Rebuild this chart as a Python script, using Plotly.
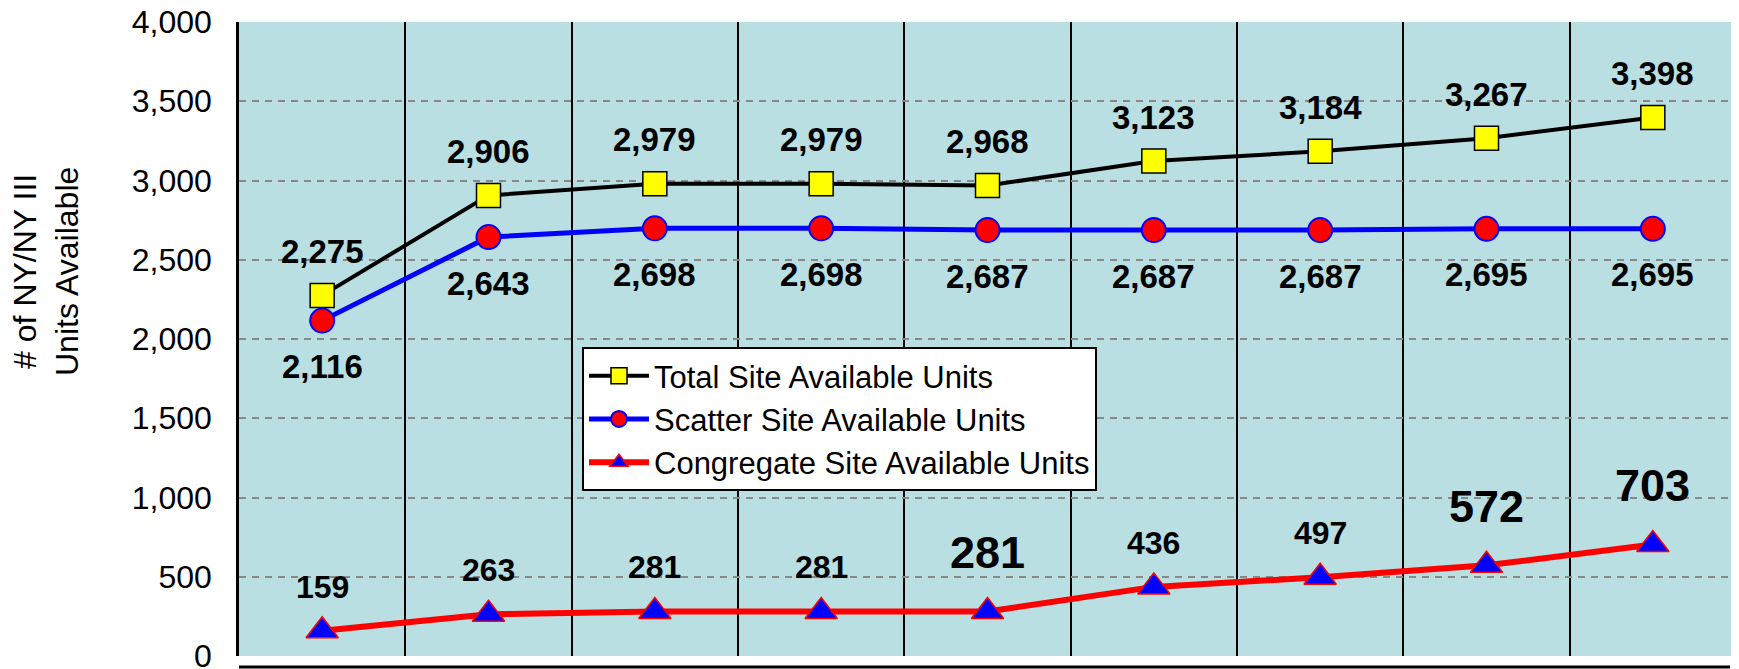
import plotly.graph_objects as go

# ---- data ----
categories = ["P1", "P2", "P3", "P4", "P5", "P6", "P7", "P8", "P9"]
total_units = [2275, 2906, 2979, 2979, 2968, 3123, 3184, 3267, 3398]
scatter_units = [2116, 2643, 2698, 2698, 2687, 2687, 2687, 2695, 2695]
congregate_units = [159, 263, 281, 281, 281, 436, 497, 572, 703]
# label emphasis (big bold labels) for congregate series
congregate_big = [False, False, False, False, True, False, False, True, True]

series_names = ["Total Site Available Units",
                "Scatter Site Available Units",
                "Congregate Site Available Units"]
y_ticks = [0, 500, 1000, 1500, 2000, 2500, 3000, 3500, 4000]

FONT = "Arial, Liberation Sans, sans-serif"
W, H = 1739, 669
OFF = 8  # default page body margin shifts the figure by 8px
# target plot area in screen pixels
PL, PT, PR, PB = 239, 22, 1736, 656
ML, MT = PL - OFF, PT - OFF
MR = W - (PR - OFF)
MB = H - (PB - OFF)
PW = PR - PL
PH = PB - PT


def px_x(sx):
    return (sx - PL) / PW


def px_y(sy):
    return (PB - sy) / PH


fig = go.Figure()

fig.add_trace(go.Scatter(
    x=categories, y=total_units, name=series_names[0], mode="lines+markers",
    line=dict(color="#000000", width=4),
    marker=dict(symbol="square", size=24, color="#FFFF00",
                line=dict(color="#000000", width=1.5)),
))
fig.add_trace(go.Scatter(
    x=categories, y=scatter_units, name=series_names[1], mode="lines+markers",
    line=dict(color="#0000FF", width=5),
    marker=dict(symbol="circle", size=24, color="#FF0000",
                line=dict(color="#0000FF", width=2)),
))
fig.add_trace(go.Scatter(
    x=categories, y=congregate_units, name=series_names[2], mode="lines+markers",
    line=dict(color="#FF0000", width=6),
    marker=dict(symbol="triangle-up", size=28, color="#0000FF",
                line=dict(color="#FF0000", width=1.5)),
))

annotations = []
for c, v in zip(categories, total_units):
    annotations.append(dict(x=c, y=v, text=f"{v:,}", showarrow=False, yshift=44,
                            font=dict(family=FONT, size=33, color="#000000", weight="bold")))
for c, v in zip(categories, scatter_units):
    annotations.append(dict(x=c, y=v, text=f"{v:,}", showarrow=False, yshift=-46,
                            font=dict(family=FONT, size=33, color="#000000", weight="bold")))
for c, v, big in zip(categories, congregate_units, congregate_big):
    annotations.append(dict(x=c, y=v, text=f"{v:,}", showarrow=False,
                            yshift=59 if big else 44,
                            font=dict(family=FONT, size=45 if big else 32,
                                      color="#000000", weight="bold")))

# y-axis title as annotation
annotations.append(dict(
    xref="paper", yref="paper", x=px_x(46), y=px_y(272),
    text="# of NY/NY III<br>Units Available", showarrow=False, textangle=-90,
    font=dict(family=FONT, size=32, color="#000000"),
    xanchor="center", yanchor="middle", align="center",
))

fig.update_layout(
    width=W, height=H,
    margin=dict(l=ML, r=MR, t=MT, b=MB, pad=0, autoexpand=False),
    paper_bgcolor="#FFFFFF",
    plot_bgcolor="#BADFE2",
    font=dict(family=FONT, color="#000000"),
    showlegend=True,
    legend=dict(
        x=px_x(582), y=px_y(347), xanchor="left", yanchor="top",
        bgcolor="#FFFFFF", bordercolor="#000000", borderwidth=2,
        font=dict(family=FONT, size=31, color="#000000"),
        itemwidth=60, tracegroupgap=0,
    ),
    annotations=annotations,
    shapes=[dict(type="line", xref="paper", yref="paper",
                 x0=0, x1=px_x(1730), y0=px_y(667), y1=px_y(667),
                 line=dict(color="#000000", width=3))],
)

fig.update_xaxes(
    type="category", range=[-0.5, len(categories) - 0.5], automargin=False,
    tickson="boundaries", showgrid=True, gridcolor="#000000", gridwidth=1.5,
    showticklabels=False, ticks="", showline=False, zeroline=False,
)
fig.update_yaxes(
    range=[0, 4000], tickvals=y_ticks, tickformat=",", automargin=False,
    showgrid=True, gridcolor="#888888", gridwidth=1.5, griddash="7px,6px",
    zeroline=False, showline=True, linecolor="#000000", linewidth=2.5,
    ticks="", ticklabelstandoff=18, ticklabeloverflow="allow",
    tickfont=dict(family=FONT, size=32, color="#000000"),
)

fig.write_html("out.html")
